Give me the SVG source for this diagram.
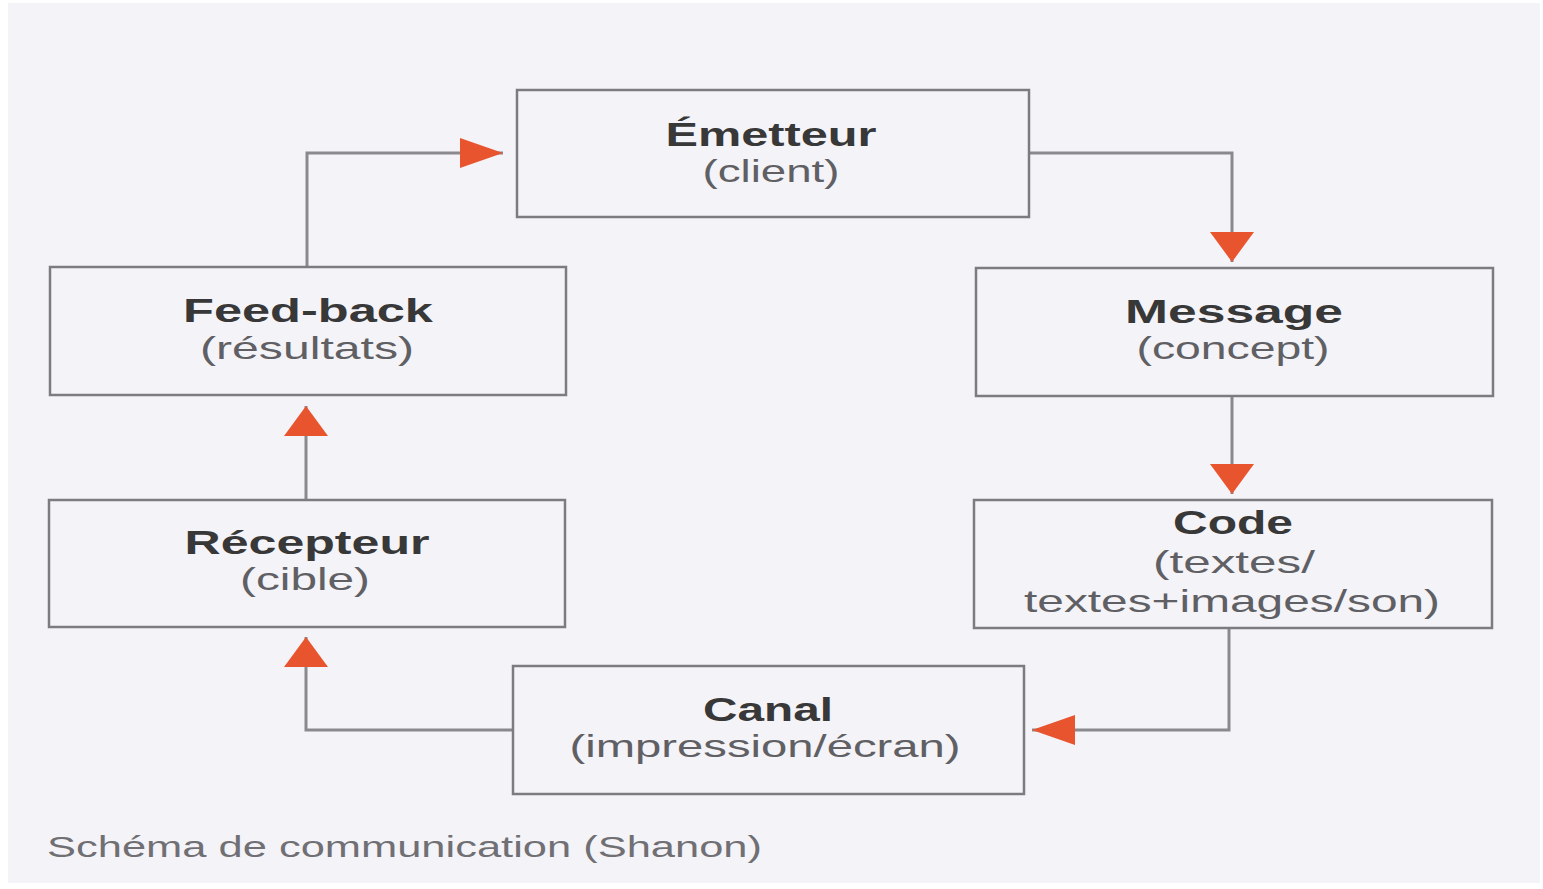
<svg xmlns="http://www.w3.org/2000/svg" width="1543" height="889" viewBox="0 0 1543 889">
<style>
.box{fill:#f4f3f8;stroke:#7c7c80;stroke-width:2.5}
.t{font-family:"Liberation Sans",Arial,sans-serif;font-weight:bold;font-size:33px;fill:#383838;text-anchor:middle}
.s{font-family:"Liberation Sans",Arial,sans-serif;font-size:31px;fill:#606064;text-anchor:middle}
.cap{font-family:"Liberation Sans",Arial,sans-serif;font-size:29px;fill:#707074}
.ln{fill:none;stroke:#8a8a8e;stroke-width:3}
</style>
<defs>
<marker id="ah" markerUnits="userSpaceOnUse" markerWidth="44" markerHeight="32" refX="43" refY="15" orient="auto" viewBox="0 0 44 32">
<path d="M0,0 L43,15 L0,30 z" fill="#e8542e"/>
</marker>
<marker id="av" markerUnits="userSpaceOnUse" markerWidth="31" markerHeight="46" refX="30" refY="22" orient="auto" viewBox="0 0 31 46">
<path d="M0,0 L30,22 L0,44 z" fill="#e8542e"/>
</marker>
</defs>
<rect x="0" y="0" width="1543" height="889" fill="#ffffff"/>
<rect x="8" y="3" width="1532" height="880" fill="#f4f3f8"/>
<g id="connectors">
<path class="ln" d="M307,267 V153 H503" marker-end="url(#ah)"/>
<path class="ln" d="M1029,153 H1232 V262" marker-end="url(#av)"/>
<path class="ln" d="M1232,396 V494" marker-end="url(#av)"/>
<path class="ln" d="M1229,628 V730 H1032" marker-end="url(#ah)"/>
<path class="ln" d="M513,730 H306 V637" marker-end="url(#av)"/>
<path class="ln" d="M306,500 V406" marker-end="url(#av)"/>
</g>
<g id="emetteur">
<rect class="box" x="517" y="90" width="512" height="127"/>
<text class="t" transform="translate(771,146) scale(1.47,1)" textLength="143.5" lengthAdjust="spacingAndGlyphs">Émetteur</text>
<text class="s" transform="translate(771,182) scale(1.47,1)" textLength="93.2" lengthAdjust="spacingAndGlyphs">(client)</text>
</g>
<g id="message">
<rect class="box" x="976" y="268" width="517" height="128"/>
<text class="t" transform="translate(1234,323) scale(1.47,1)" textLength="148.3" lengthAdjust="spacingAndGlyphs">Message</text>
<text class="s" transform="translate(1233,359) scale(1.47,1)" textLength="131.3" lengthAdjust="spacingAndGlyphs">(concept)</text>
</g>
<g id="code">
<rect class="box" x="974" y="500" width="518" height="128"/>
<text class="t" transform="translate(1233,534) scale(1.47,1)" textLength="81.6" lengthAdjust="spacingAndGlyphs">Code</text>
<text class="s" transform="translate(1234,573) scale(1.47,1)" textLength="110.2" lengthAdjust="spacingAndGlyphs">(textes/</text>
<text class="s" transform="translate(1232,612) scale(1.47,1)" textLength="283" lengthAdjust="spacingAndGlyphs">textes+images/son)</text>
</g>
<g id="canal">
<rect class="box" x="513" y="666" width="511" height="128"/>
<text class="t" transform="translate(768,721) scale(1.47,1)" textLength="88.4" lengthAdjust="spacingAndGlyphs">Canal</text>
<text class="s" transform="translate(765,757) scale(1.47,1)" textLength="266" lengthAdjust="spacingAndGlyphs">(impression/écran)</text>
</g>
<g id="recepteur">
<rect class="box" x="49" y="500" width="516" height="127"/>
<text class="t" transform="translate(307,554) scale(1.47,1)" textLength="166.7" lengthAdjust="spacingAndGlyphs">Récepteur</text>
<text class="s" transform="translate(305,590) scale(1.47,1)" textLength="88.4" lengthAdjust="spacingAndGlyphs">(cible)</text>
</g>
<g id="feedback">
<rect class="box" x="50" y="267" width="516" height="128"/>
<text class="t" transform="translate(308,322) scale(1.47,1)" textLength="170" lengthAdjust="spacingAndGlyphs">Feed-back</text>
<text class="s" transform="translate(307,359) scale(1.47,1)" textLength="145.6" lengthAdjust="spacingAndGlyphs">(résultats)</text>
</g>
<text class="cap" transform="translate(47,857) scale(1.47,1)" textLength="486.4" lengthAdjust="spacingAndGlyphs">Schéma de communication (Shanon)</text>
</svg>
